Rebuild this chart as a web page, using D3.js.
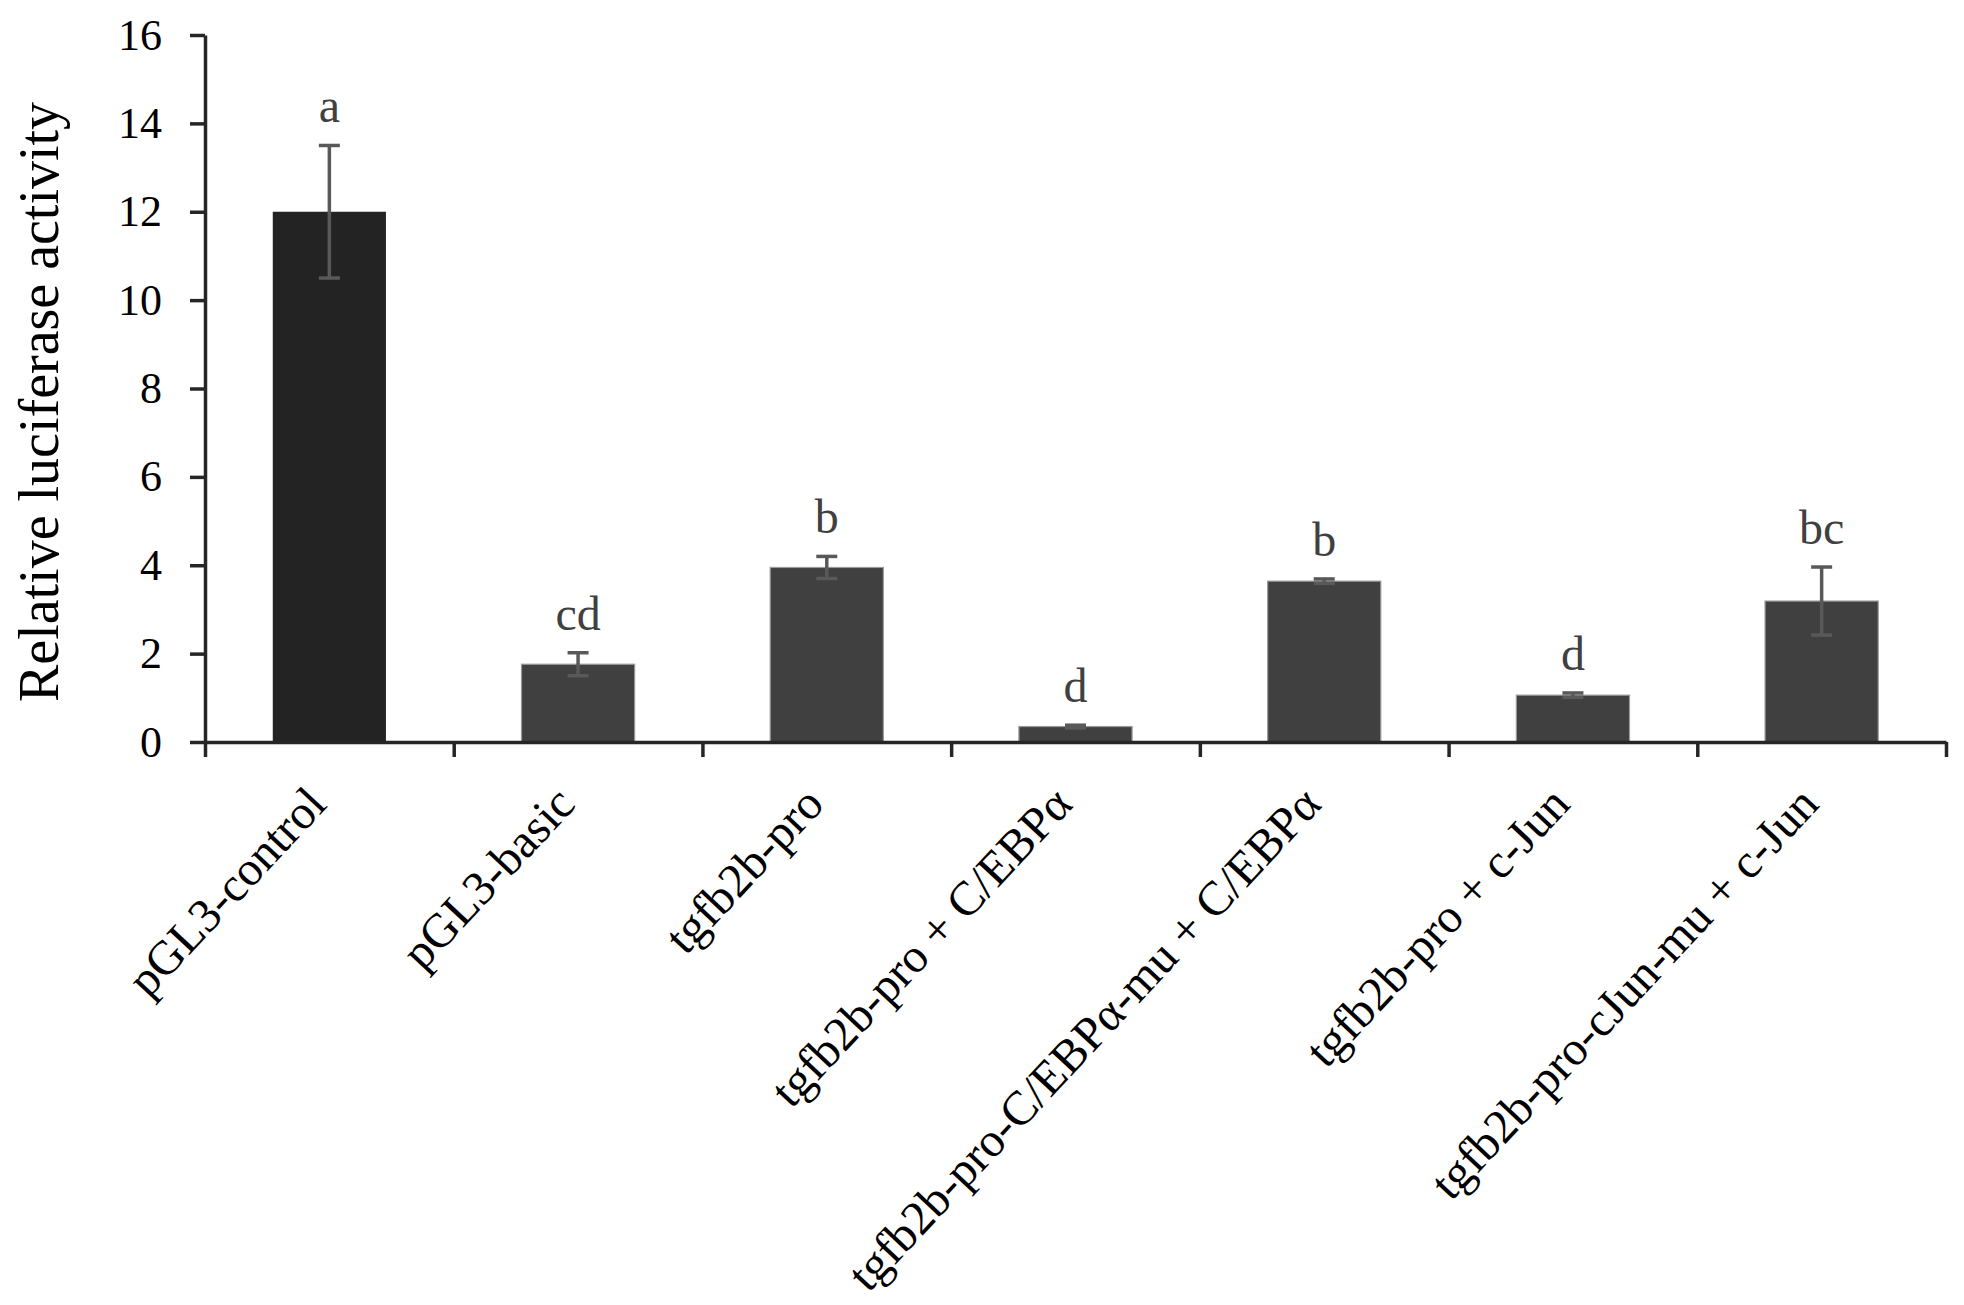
<!DOCTYPE html>
<html>
<head>
<meta charset="utf-8">
<script src="https://cdn.jsdelivr.net/npm/d3@7"></script>
<style>
  html, body { margin: 0; padding: 0; background: #fff; }
  svg { display: block; font-family: "Liberation Serif", "Times New Roman", serif; }
</style>
</head>
<body>
<svg width="1964" height="1305"></svg>
<script>
var groups = ["pGL3-control", "pGL3-basic", "tgfb2b-pro", "tgfb2b-pro + C/EBPα",
              "tgfb2b-pro-C/EBPα-mu + C/EBPα", "tgfb2b-pro + c-Jun", "tgfb2b-pro-cJun-mu + c-Jun"];
var means = [12.0, 1.76, 3.95, 0.35, 3.64, 1.06, 3.19];
var errors = [1.5, 0.26, 0.25, 0.03, 0.05, 0.05, 0.77];
var letters = ["a", "cd", "b", "d", "b", "d", "bc"];
var yTicks = [0, 2, 4, 6, 8, 10, 12, 14, 16];

var svg = d3.select('svg');
var plotLeft = 205, plotRight = 1946, plotTop = 35, plotBottom = 742;

var x = d3.scaleBand()
          .domain(groups)
          .range([plotLeft, plotRight])
          .paddingInner(0.545)
          .paddingOuter(0.2725);

// boundaries between categories for the tick marks
var xEdge = d3.scaleLinear()
              .domain([0, groups.length])
              .range([plotLeft, plotRight]);

var y = d3.scaleLinear()
          .domain([0, 16])
          .range([plotBottom, plotTop]);

var rows = groups.map((g, i) => ({ g: g, v: means[i], e: errors[i], l: letters[i], i: i }));
var cx = d => x(d.g) + x.bandwidth() / 2;

// bars
svg.append('g')
  .selectAll('rect')
  .data(rows)
  .enter()
  .append('rect')
    .attr('x', d => x(d.g))
    .attr('y', d => y(d.v))
    .attr('width', x.bandwidth())
    .attr('height', d => y(0) - y(d.v))
    .style('fill', d => d.i === 0 ? '#232323' : '#404040')
    .style('stroke', d => d.i === 0 ? 'none' : '#9a9a9a')
    .style('stroke-width', 1.2);

// error bars
var capW = 21;
var err = svg.append('g')
  .selectAll('g')
  .data(rows)
  .enter()
  .append('g')
    .style('stroke', '#595959')
    .style('stroke-width', 3.5);

err.append('line')
  .attr('x1', cx)
  .attr('x2', cx)
  .attr('y1', d => y(d.v + d.e))
  .attr('y2', d => y(d.v - d.e));

err.append('line')
  .attr('x1', d => cx(d) - capW / 2)
  .attr('x2', d => cx(d) + capW / 2)
  .attr('y1', d => y(d.v + d.e))
  .attr('y2', d => y(d.v + d.e));

err.append('line')
  .attr('x1', d => cx(d) - capW / 2)
  .attr('x2', d => cx(d) + capW / 2)
  .attr('y1', d => y(d.v - d.e))
  .attr('y2', d => y(d.v - d.e));

// significance letters
svg.append('g')
  .selectAll('text')
  .data(rows)
  .enter()
  .append('text')
    .attr('x', cx)
    .attr('y', d => y(d.v + d.e) - 23)
    .attr('text-anchor', 'middle')
    .style('font-size', '48px')
    .style('fill', '#404040')
    .text(d => d.l);

// axes
var yAxis = svg.append('g')
  .attr('transform', 'translate(' + plotLeft + ',0)')
  .call(d3.axisLeft(y).tickValues(yTicks).tickSize(15).tickSizeOuter(0).tickPadding(28));

var xAxis = svg.append('g')
  .attr('transform', 'translate(0,' + plotBottom + ')')
  .call(d3.axisBottom(xEdge).tickValues(d3.range(groups.length + 1)).tickSize(15).tickSizeOuter(0).tickFormat(''));

[yAxis, xAxis].forEach(a => {
  a.select('.domain').style('stroke', '#262626').style('stroke-width', 3.5);
  a.selectAll('.tick line').style('stroke', '#262626').style('stroke-width', 3.5);
});

yAxis.selectAll('.tick text')
  .style('font-family', '"Liberation Serif", "Times New Roman", serif')
  .style('font-size', '44px')
  .style('fill', '#000');

// rotated category labels
svg.append('g')
  .selectAll('text')
  .data(rows)
  .enter()
  .append('text')
    .attr('transform', d => 'translate(' + (cx(d) - 1) + ',' + (plotBottom + 64) + ') rotate(-47)')
    .attr('text-anchor', 'end')
    .style('font-size', '48px')
    .style('fill', '#000')
    .text(d => d.g);

// y title
svg.append('text')
  .attr('transform', 'translate(58,402) rotate(-90)')
  .attr('text-anchor', 'middle')
  .style('font-size', '56px')
  .style('fill', '#000')
  .text('Relative luciferase activity');
</script>
</body>
</html>
